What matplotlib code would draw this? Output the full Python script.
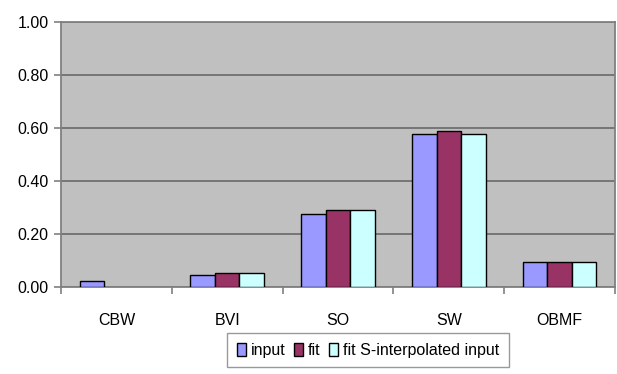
import numpy as np
import matplotlib
matplotlib.use("Agg")
import matplotlib.pyplot as plt

plt.rcParams['font.family'] = ['Liberation Sans', 'DejaVu Sans']

categories = ["CBW", "BVI", "SO", "SW", "OBMF"]
input_vals = [0.024, 0.044, 0.274, 0.577, 0.093]
fit_vals = [0.0, 0.051, 0.289, 0.587, 0.093]
fit_s_vals = [0.0, 0.051, 0.289, 0.577, 0.093]
series_names = ["input", "fit", "fit S-interpolated input"]
colors = ["#9999FF", "#993366", "#CCFFFF"]

fig = plt.figure(figsize=(6.17, 3.74), dpi=100)
ax = fig.add_axes([61/617, 87/374, 554/617, 265/374])
ax.set_facecolor("#C0C0C0")

x = np.arange(len(categories))
w = 0.222
for i, (vals, c, name) in enumerate(zip([input_vals, fit_vals, fit_s_vals], colors, series_names)):
    v = np.array(vals)
    xs = x + (i - 1) * w
    mask = v > 0
    ax.bar(xs[mask], v[mask], width=w, color=c, edgecolor="black", linewidth=1.0,
           label=name, zorder=3)

ax.set_xlim(-0.5, len(categories) - 0.5)
ax.set_ylim(0, 1.0)
ax.set_yticks(np.arange(0, 1.01, 0.2))
ax.set_yticklabels(["%.2f" % t for t in np.arange(0, 1.01, 0.2)], fontsize=11.5)
ax.yaxis.grid(True, color="#707070", linewidth=1.3, zorder=1)
ax.set_axisbelow(True)

ax.set_xticks(np.arange(-0.5, len(categories), 1.0))
ax.set_xticklabels([])
ax.set_xticks(x, minor=True)
ax.set_xticklabels(categories, minor=True, fontsize=11.5)
ax.tick_params(axis="x", which="minor", length=0, pad=19)
ax.tick_params(axis="x", which="major", length=5, color="#808080", width=1.2)
ax.tick_params(axis="y", length=5, color="#808080", width=1.2, pad=4)

for s in ax.spines.values():
    s.set_color("#808080")
    s.set_linewidth(1.3)

leg = fig.legend(loc="upper left", bbox_to_anchor=(227/617, 41/374), ncol=3,
                 fontsize=11.5, frameon=True, fancybox=False, edgecolor="#808080",
                 handlelength=0.6, handleheight=0.9, handletextpad=0.3,
                 columnspacing=0.5, borderpad=0.6, borderaxespad=0)
leg.get_frame().set_linewidth(1.0)

fig.savefig("out.png", dpi=100, facecolor="white")
